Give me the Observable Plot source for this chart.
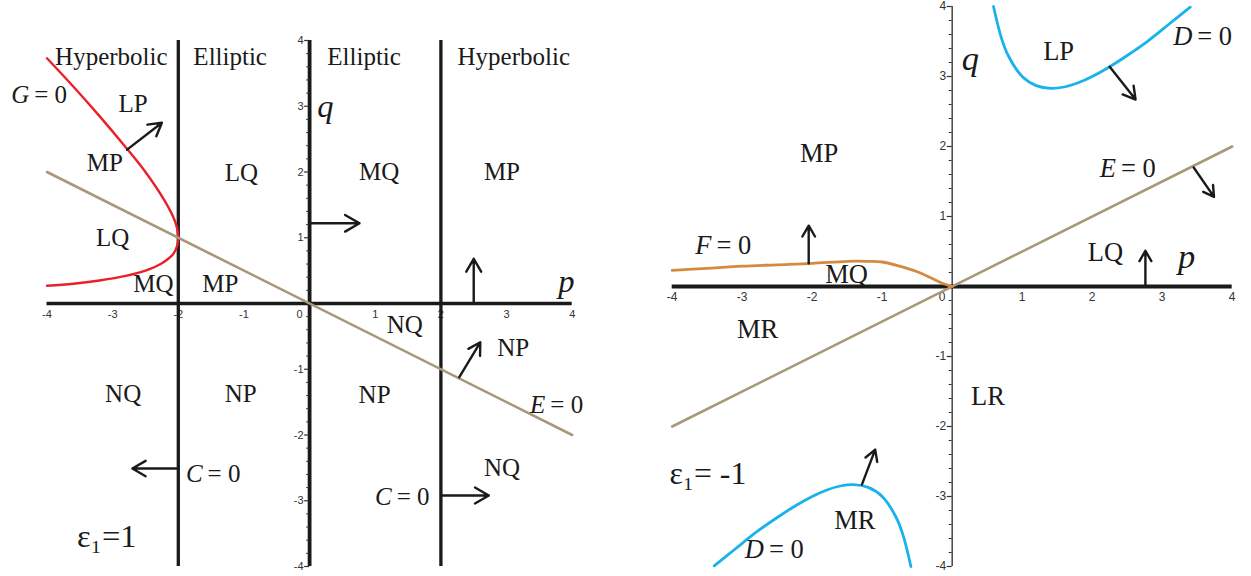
<!DOCTYPE html>
<html><head><meta charset="utf-8">
<script src="https://cdn.jsdelivr.net/npm/d3@7"></script>
<script src="https://cdn.jsdelivr.net/npm/@observablehq/plot@0.6"></script>
<style>
body{margin:0;background:#fff;}
#wrap{position:relative;width:1251px;height:576px;overflow:hidden;background:#fff;}
#left{position:absolute;left:0;top:0;}
#right{position:absolute;left:625px;top:0;}
</style></head><body><div id="wrap"><div id="left"></div><div id="right"></div></div>
<script>
// ---------- axis ticks ----------
const majorTicks = [-4, -3, -2, -1, 1, 2, 3, 4];
const xTickLabels = ["-4", "-3", "-2", "-1", "1", "2", "3", "4"];
const yTickValues = [-4, -3, -2, -1, 1, 2, 3, 4];
const yTickLabels = ["-4", "-3", "-2", "-1", "1", "2", "3", "4"];
const originLabel = ["0"];
const minorTicks = d3.range(-40, 41, 2).map(v => v / 10).filter(v => !Number.isInteger(v));

// ---------- left panel (eps1 = 1) ----------
const cLinesP = [-2, 2];
const gCurveP = [-4.0, -3.6, -3.2, -2.82, -2.5, -2.2, -2.07, -2.02, -2.0, -2.02, -2.08, -2.27, -2.5, -2.8, -3.2, -3.6, -4.0];
const gCurveQ = [3.73, 3.3, 2.85, 2.4, 2.0, 1.55, 1.3, 1.15, 1.0, 0.87, 0.75, 0.6, 0.5, 0.42, 0.35, 0.3, 0.27];
const eLeftP = [-4, 4];
const eLeftQ = [2, -2];
const leftArrows = [
  [-2.78, 2.34, -2.25, 2.75],
  [0, 1.22, 0.76, 1.22],
  [2.5, 0, 2.5, 0.68],
  [2.28, -1.12, 2.6, -0.59],
  [2, -2.92, 2.73, -2.92],
  [-2, -2.51, -2.7, -2.51]
];
const leftRegions = [
  ["Hyperbolic", -3.02, 3.75], ["Elliptic", -1.21, 3.75], ["Elliptic", 0.83, 3.75], ["Hyperbolic", 3.11, 3.75],
  ["LP", -2.69, 3.04], ["MP", -3.12, 2.14], ["LQ", -1.04, 1.98], ["LQ", -3.0, 0.99],
  ["MQ", -2.38, 0.3], ["MP", -1.36, 0.3], ["MQ", 1.06, 2.0], ["MP", 2.93, 2.0],
  ["NQ", 1.45, -0.32], ["NP", 3.1, -0.67], ["NP", 0.99, -1.39], ["NQ", 2.93, -2.5],
  ["NQ", -2.84, -1.38], ["NP", -1.05, -1.38]
];
const leftEquations = [["G", -4.27, 3.17], ["C", -1.63, -2.59], ["C", 1.25, -2.94], ["E", 3.59, -1.545]];
const leftVars = [["q", 0.24, 3.0], ["p", 3.91, 0.34]];
const leftEps = [["ε₁=1", -3.09, -3.54]];

// ---------- right panel (eps1 = -1) ----------
const eRightP = [-4, 4];
const eRightQ = [-2, 2];
const fCurveP = [-4.0, -3.5, -3.0, -2.5, -2.0, -1.5, -1.2, -1.0, -0.75, -0.5, -0.3, -0.15, 0];
const fCurveQ = [0.23, 0.26, 0.29, 0.31, 0.33, 0.36, 0.36, 0.35, 0.29, 0.21, 0.12, 0.05, 0];
const dUpperP = [0.59, 0.7, 0.8, 1.0, 1.2, 1.41, 1.6, 1.8, 2.0, 2.25, 2.5, 2.8, 3.1, 3.4];
const dUpperQ = [4.0, 3.56, 3.3, 3.0, 2.87, 2.83, 2.85, 2.91, 3.0, 3.14, 3.3, 3.51, 3.75, 3.99];
const dLowerP = [-3.4, -3.1, -2.8, -2.5, -2.25, -2.0, -1.8, -1.6, -1.41, -1.2, -1.0, -0.8, -0.7, -0.59];
const dLowerQ = [-3.99, -3.75, -3.51, -3.3, -3.14, -3.0, -2.91, -2.85, -2.83, -2.87, -3.0, -3.3, -3.56, -4.0];
const rightArrows = [
  [2.25, 3.14, 2.62, 2.67],
  [3.45, 1.7, 3.74, 1.28],
  [2.76, 0, 2.76, 0.51],
  [-2.05, 0.33, -2.05, 0.87],
  [-1.29, -2.83, -1.1, -2.33]
];
const rightRegions = [
  ["LP", 1.52, 3.35], ["MP", -1.9, 1.9], ["LQ", 2.19, 0.49], ["MQ", -1.51, 0.17],
  ["MR", -2.78, -0.61], ["LR", 0.51, -1.57], ["MR", -1.39, -3.34]
];
const rightEquations = [["D", 3.43, 3.574], ["E", 2.34, 1.69], ["F", -3.44, 0.586], ["D", -2.69, -3.76]];
const rightVars = [["q", 0.26, 3.25], ["p", 3.35, 0.42]];
const rightEps = [["ε₁= -1", -3.49, -2.67]];

// ---------- styling ----------
const INK = "#1a1a1a";
const SERIF = "'Liberation Serif', 'DejaVu Serif', serif";
const SANS = "'Liberation Sans', Arial, sans-serif";
const RED = "#e8202a", TAN = "#a8987a", ORANGE = "#d48a40", BLUE = "#19b2ea";

function axisMarks(yAxisStroke, yAxisWidth, xAxisWidth, tickFont) {
  return [
    Plot.ruleX([0], {y1: -4, y2: 4, stroke: yAxisStroke, strokeWidth: yAxisWidth}),
    Plot.ruleY([0], {x1: -4, x2: 4, stroke: INK, strokeWidth: xAxisWidth}),
    Plot.ruleY(minorTicks, {y: d => d, x1: 0, x2: 0, insetLeft: -3, insetRight: 0, stroke: "#333", strokeWidth: 1}),
    Plot.ruleY(yTickValues, {y: d => d, x1: 0, x2: 0, insetLeft: -5, insetRight: 0, stroke: "#333", strokeWidth: 1.2}),
    Plot.text(yTickValues, {x: 0, y: d => d, text: (d, i) => yTickLabels[i], textAnchor: "end", dx: -6, fontSize: tickFont, fontFamily: SANS, fill: "#333"}),
    Plot.text(majorTicks, {x: d => d, y: 0, text: (d, i) => xTickLabels[i], dy: 11, fontSize: tickFont, fontFamily: SANS, fill: "#333"}),
    Plot.text(originLabel, {x: 0, y: 0, text: d => d, dy: 11, dx: -10, fontSize: tickFont, fontFamily: SANS, fill: "#333"})
  ];
}

function labelMarks(regions, equations, vars, eps, size, epsScale) {
  return [
    Plot.text(regions, {x: d => d[1], y: d => d[2], text: d => d[0], fontSize: size, fontFamily: SERIF, fill: INK}),
    Plot.text(equations, {x: d => d[1], y: d => d[2], text: d => d[0], textAnchor: "end", fontStyle: "italic", fontSize: size, fontFamily: SERIF, fill: INK}),
    Plot.text(equations, {x: d => d[1], y: d => d[2], text: () => "= 0", textAnchor: "start", dx: 5, fontSize: size, fontFamily: SERIF, fill: INK}),
    Plot.text(vars, {x: d => d[1], y: d => d[2], text: d => d[0], fontStyle: "italic", fontSize: size * 1.3, fontFamily: SERIF, fill: INK}),
    Plot.text(eps, {x: d => d[1], y: d => d[2], text: d => d[0], fontSize: size * epsScale, fontFamily: SERIF, fill: INK})
  ];
}

function arrowMark(list) {
  return Plot.arrow(list, {x1: d => d[0], y1: d => d[1], x2: d => d[2], y2: d => d[3], stroke: INK, strokeWidth: 2.4, headLength: 12});
}

const left = Plot.plot({
  width: 625, height: 576,
  marginLeft: 46.5, marginRight: 53.3, marginTop: 40, marginBottom: 10,
  x: {domain: [-4, 4], axis: null},
  y: {domain: [-4, 4], axis: null},
  style: {background: "transparent", overflow: "visible"},
  marks: [
    ...axisMarks(INK, 3.8, 3.3, 11),
    Plot.ruleX(cLinesP, {y1: -4, y2: 4, stroke: INK, strokeWidth: 3.3}),
    Plot.line(gCurveP, {x: gCurveP, y: gCurveQ, stroke: RED, strokeWidth: 2.4, curve: "catmull-rom"}),
    Plot.line(eLeftP, {x: eLeftP, y: eLeftQ, stroke: TAN, strokeWidth: 2.6}),
    arrowMark(leftArrows),
    ...labelMarks(leftRegions, leftEquations, leftVars, leftEps, 25, 1.3)
  ]
});
document.getElementById("left").appendChild(left);

const right = Plot.plot({
  width: 626, height: 576,
  marginLeft: 46.7, marginRight: 19.3, marginTop: 6, marginBottom: 10,
  x: {domain: [-4, 4], axis: null},
  y: {domain: [-4, 4], axis: null},
  style: {background: "transparent", overflow: "visible"},
  marks: [
    ...axisMarks("#444", 1.5, 4, 12),
    Plot.line(eRightP, {x: eRightP, y: eRightQ, stroke: TAN, strokeWidth: 2.6}),
    Plot.line(fCurveP, {x: fCurveP, y: fCurveQ, stroke: ORANGE, strokeWidth: 2.8, curve: "catmull-rom"}),
    Plot.line(dUpperP, {x: dUpperP, y: dUpperQ, stroke: BLUE, strokeWidth: 2.8, curve: "catmull-rom"}),
    Plot.line(dLowerP, {x: dLowerP, y: dLowerQ, stroke: BLUE, strokeWidth: 2.8, curve: "catmull-rom"}),
    arrowMark(rightArrows),
    ...labelMarks(rightRegions, rightEquations, rightVars, rightEps, 26.5, 1.2)
  ]
});
document.getElementById("right").appendChild(right);
</script>
</body></html>
